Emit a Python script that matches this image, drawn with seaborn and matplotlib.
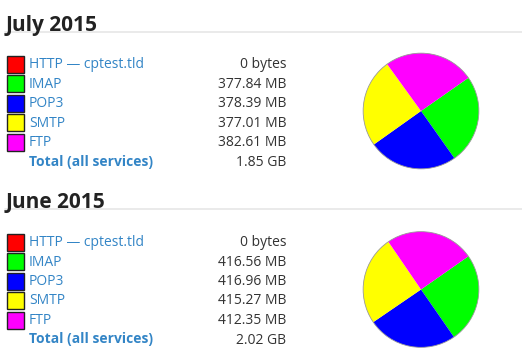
import matplotlib
matplotlib.use("Agg")
import matplotlib.pyplot as plt
from matplotlib.patches import Rectangle, Circle
import seaborn as sns

sns.set_theme(style="white")
plt.rcParams['font.family'] = ['Open Sans', 'DejaVu Sans']

months = ["July 2015", "June 2015"]
services = ["HTTP \u2014 cptest.tld", "IMAP", "POP3", "SMTP", "FTP"]
july_mb = [0, 377.84, 378.39, 377.01, 382.61]
june_mb = [0, 416.56, 416.96, 415.27, 412.35]
july_labels = ["0 bytes", "377.84 MB", "378.39 MB", "377.01 MB", "382.61 MB"]
june_labels = ["0 bytes", "416.56 MB", "416.96 MB", "415.27 MB", "412.35 MB"]
totals = ["1.85 GB", "2.02 GB"]
total_label = "Total (all services)"
colors = sns.color_palette(["#ff0000", "#00ff00", "#0000ff", "#ffff00", "#ff00ff"])

W, H = 522, 358
fig = plt.figure(figsize=(W / 100, H / 100), dpi=100)
ax = fig.add_axes([0, 0, 1, 1])
ax.set_xlim(0, W)
ax.set_ylim(H, 0)
ax.axis("off")

link = "#3385c6"
dark = "#333333"
fs = 10.0
sections = [(july_mb, july_labels), (june_mb, june_labels)]
offset = 177.7
for s, (vals, labs) in enumerate(sections):
    oy = s * offset
    ax.text(6, 30.5 + oy, months[s], fontsize=15, fontweight="bold",
            color="#222222", va="baseline", ha="left")
    ax.plot([5, 522], [31.5 + oy, 31.5 + oy], color="#e6e6e6", lw=1.2)
    for i, name in enumerate(services):
        base = 68.3 + oy + i * 19.5
        ax.add_patch(Rectangle((7, base - 12.5), 17, 17, facecolor=colors[i],
                               edgecolor="#222222", lw=1.0))
        ax.text(29, base, name, fontsize=fs, color=link, va="baseline", ha="left")
        ax.text(286, base, labs[i], fontsize=fs, color=dark, va="baseline", ha="right")
    base = 68.3 + oy + 5 * 19.5
    ax.text(29, base, total_label, fontsize=fs, color=link, fontweight="bold",
            va="baseline", ha="left")
    ax.text(286, base, totals[s], fontsize=fs, color=dark, va="baseline", ha="right")

    cx, cy, r = 421, 111 + s * 178.5, 59
    pax = fig.add_axes([(cx - r) / W, 1 - (cy + r) / H, 2 * r / W, 2 * r / H])
    pax.pie(vals, colors=colors, startangle=35, counterclock=False,
            wedgeprops=dict(linewidth=0))
    pax.add_patch(Circle((0, 0), 1, fill=False, edgecolor="#999999", lw=0.6))
    pax.set_xlim(-1.02, 1.02)
    pax.set_ylim(-1.02, 1.02)
    pax.axis("off")

fig.savefig("out.png", dpi=100)
